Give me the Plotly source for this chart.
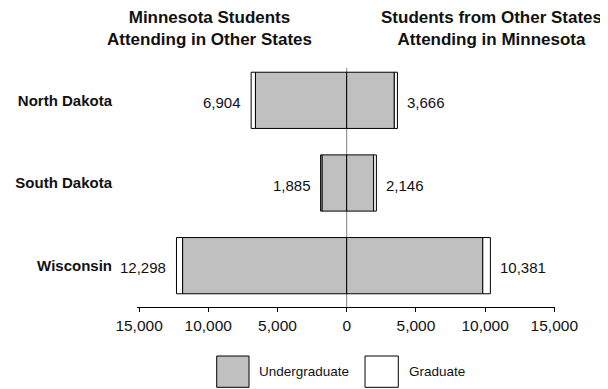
import plotly.graph_objects as go

states = ["North Dakota", "South Dakota", "Wisconsin"]
out_total = [6904, 1885, 12298]
in_total = [3666, 2146, 10381]
out_undergrad = [6593, 1790, 11856]
out_grad = [311, 95, 442]
in_undergrad = [3441, 1946, 9832]
in_grad = [225, 200, 549]
tick_vals = [-15000, -10000, -5000, 0, 5000, 10000, 15000]
tick_text = ["15,000", "10,000", "5,000", "0", "5,000", "10,000", "15,000"]
left_title = "Minnesota Students<br>Attending in Other States"
right_title = "Students from Other States<br>Attending in Minnesota"
legend_names = ["Undergraduate", "Graduate"]

FONT = "Liberation Sans, Arial, sans-serif"
UG = "#c0c0c0"
GR = "#ffffff"
line = dict(color="black", width=1)

fig = go.Figure()
fig.add_trace(go.Bar(y=states, x=[-v for v in out_undergrad], orientation="h",
                     marker=dict(color=UG, line=line), width=0.68, name=legend_names[0]))
fig.add_trace(go.Bar(y=states, x=in_undergrad, orientation="h",
                     marker=dict(color=UG, line=line), width=0.68, name=legend_names[0]))
fig.add_trace(go.Bar(y=states, x=[-v for v in out_grad], orientation="h",
                     marker=dict(color=GR, line=line), width=0.68, name=legend_names[1]))
fig.add_trace(go.Bar(y=states, x=in_grad, orientation="h",
                     marker=dict(color=GR, line=line), width=0.68, name=legend_names[1]))

ann = []
for s, v in zip(states, out_total):
    ann.append(dict(x=-v, y=s, xref="x", yref="y", text=f"{v:,}", showarrow=False,
                    xanchor="right", yanchor="middle", xshift=-8, yshift=-2,
                    font=dict(family=FONT, size=15, color="#111")))
for s, v in zip(states, in_total):
    ann.append(dict(x=v, y=s, xref="x", yref="y", text=f"{v:,}", showarrow=False,
                    xanchor="left", yanchor="middle", xshift=8, yshift=-2,
                    font=dict(family=FONT, size=15, color="#111")))
ann.append(dict(x=0.1746, y=1.125, xref="paper", yref="paper", text=f"<b>{left_title}</b>",
                showarrow=False, xanchor="center", yanchor="middle",
                font=dict(family=FONT, size=17, color="#111")))
ann.append(dict(x=0.8469, y=1.125, xref="paper", yref="paper", text=f"<b>{right_title}</b>",
                showarrow=False, xanchor="center", yanchor="middle",
                font=dict(family=FONT, size=17, color="#111")))
ann.append(dict(x=0.2864, y=-0.2609, xref="paper", yref="paper", text=legend_names[0],
                showarrow=False, xanchor="left", yanchor="middle",
                font=dict(family=FONT, size=13.5, color="#111")))
ann.append(dict(x=0.6452, y=-0.2609, xref="paper", yref="paper", text=legend_names[1],
                showarrow=False, xanchor="left", yanchor="middle",
                font=dict(family=FONT, size=13.5, color="#111")))

shapes = [
    dict(type="line", xref="x", yref="paper", x0=0, x1=0, y0=0, y1=0.964,
         line=dict(color="#808080", width=1), layer="below"),
    dict(type="rect", xref="paper", yref="paper", x0=0.1907, x1=0.268, y0=-0.3238, y1=-0.1976,
         fillcolor=UG, line=dict(color="black", width=1)),
    dict(type="rect", xref="paper", yref="paper", x0=0.5455, x1=0.6251, y0=-0.3238, y1=-0.1976,
         fillcolor=GR, line=dict(color="black", width=1)),
]

# The page body has a default 8px margin, so the figure is sized 8px smaller
fig.update_layout(
    width=600, height=381,
    margin=dict(l=129, r=53, t=51, b=82),
    barmode="relative",
    showlegend=False,
    plot_bgcolor="white", paper_bgcolor="white",
    annotations=ann, shapes=shapes,
    font=dict(family=FONT, size=15, color="#111"),
)
fig.update_xaxes(range=[-15150, 15050], tickvals=tick_vals, ticktext=tick_text,
                 automargin=False,
                 showgrid=False, zeroline=False,
                 showline=True, linecolor="black", linewidth=1,
                 ticks="outside", ticklen=4, tickcolor="black",
                 tickfont=dict(family=FONT, size=15.5, color="#111"))
fig.update_yaxes(categoryorder="array", categoryarray=states, range=[2.5, -0.5],
                 automargin=False,
                 showgrid=False, zeroline=False, showline=False, ticks="",
                 ticklabelstandoff=24,
                 tickfont=dict(family=FONT, size=15, color="#111", weight="bold"))

fig.write_html("out.html")
